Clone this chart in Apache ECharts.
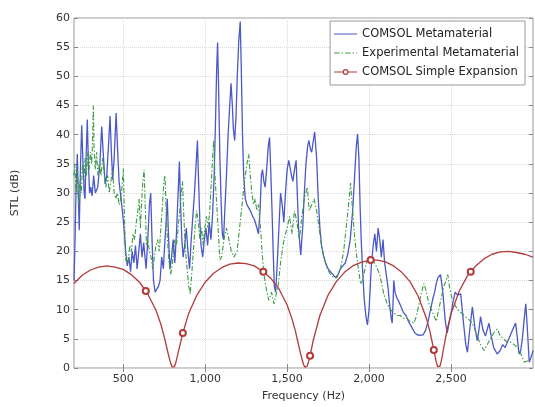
<!DOCTYPE html>
<html><head><meta charset="utf-8">
<script src="https://cdn.jsdelivr.net/npm/echarts@6/dist/echarts.min.js"></script>
<style>html,body{margin:0;padding:0;background:#fff}#c{width:535px;height:407px}</style>
</head><body><div id="c"></div>
<script>
const xTickValues = [500, 1000, 1500, 2000, 2500];
const seriesNames = ['COMSOL Metamaterial', 'Experimental Metamaterial', 'COMSOL Simple Expansion'];

const comsolMeta = [[200,15],[205,20],[212,30],[220,36.7],[226,30],[232,23.6],[240,35],[247,41.6],[255,35],[262,30],[267,29],[274,36],[281,42.6],[288,35],[295,30],[302,31],[310,29.5],[320,33],[330,30],[345,31],[358,35],[369,41.4],[380,36],[390,31.5],[400,33],[410,38],[420,43.2],[428,37],[436,32.3],[445,36],[457,43.7],[465,38],[475,32],[485,29.5],[495,27],[505,24],[515,20],[525,17.5],[535,19],[545,16.5],[555,20],[565,18],[575,21],[585,17],[595,20],[605,23],[615,19],[625,21.5],[640,17],[650,22],[660,28],[668,30],[676,22],[685,15],[695,13],[705,13.2],[715,14],[725,15],[735,19],[745,17],[755,22],[762,25],[769,29],[776,23],[785,17],[795,19],[805,22],[815,18],[825,23],[835,30],[843,35.4],[850,28],[858,22],[866,19],[875,21],[885,24],[895,20],[905,17],[915,22],[925,26],[935,30],[945,35],[953,39],[960,32],[968,25],[975,21],[985,19],[995,22],[1005,24],[1015,21],[1025,25],[1035,22],[1045,26],[1055,33],[1063,42],[1070,51],[1076,55.8],[1082,48],[1090,36],[1098,28],[1105,23],[1112,22],[1120,27],[1130,33],[1140,40],[1150,45],[1158,48.8],[1166,45],[1172,41],[1180,39],[1188,43],[1196,50],[1205,56],[1214,59.4],[1220,52],[1228,40],[1235,33],[1245,29],[1255,28],[1265,27.5],[1275,27],[1290,26],[1300,25.5],[1316,24],[1325,23],[1335,27],[1343,33],[1350,34],[1358,32],[1366,31],[1375,34],[1385,38],[1393,39.5],[1400,34],[1408,27],[1415,20],[1422,14],[1430,13],[1440,18],[1450,24],[1460,30],[1470,28],[1480,25],[1490,30],[1500,34],[1510,35.6],[1520,35.9],[1527,33],[1535,32],[1545,34],[1555,35.6],[1562,30],[1570,24],[1583,19.4],[1595,24],[1605,30],[1615,35],[1625,38],[1633,39],[1642,37.5],[1650,37],[1660,39],[1668,40.5],[1674,40.7],[1680,36],[1690,29],[1700,24],[1710,21],[1720,19.5],[1735,18],[1750,17],[1765,16.5],[1780,16],[1795,15.5],[1810,16],[1825,17],[1840,17.5],[1855,18],[1870,19.5],[1885,22],[1900,27],[1912,33],[1922,38],[1930,40.1],[1938,36],[1945,28],[1952,22],[1960,17],[1970,12],[1980,9],[1990,7.4],[2000,10],[2008,14.4],[2015,18],[2025,21],[2035,23],[2045,20],[2055,24],[2065,22],[2075,19],[2085,22],[2095,18],[2105,16],[2115,14],[2125,11],[2135,8.5],[2141,7.7],[2146,11],[2151,15],[2158,13],[2170,12],[2180,11.5],[2195,10.5],[2210,9.5],[2225,9],[2240,8],[2260,7],[2280,6],[2294,5.7],[2310,5.6],[2330,5.7],[2345,6.5],[2360,8],[2375,10],[2390,12],[2400,13],[2410,14.5],[2420,15.5],[2436,16],[2450,13],[2465,8],[2477,6],[2490,8],[2498,9],[2510,11],[2525,13],[2540,12.5],[2559,12.7],[2575,8],[2590,4],[2600,2.7],[2612,6],[2630,10.5],[2645,7],[2660,4.7],[2670,6.5],[2680,8.8],[2695,6.5],[2710,5.5],[2720,6.5],[2731,7.7],[2745,5.5],[2760,3.5],[2782,2.4],[2800,3],[2815,4],[2830,3.5],[2845,4.5],[2860,5.5],[2875,6.5],[2894,7.7],[2905,5],[2915,2.4],[2925,3],[2935,5],[2945,8],[2956,11],[2965,7],[2977,1],[2990,2],[3000,3]];

const experimentalMeta = [[200,33],[205,35],[212,30],[220,34],[228,28],[236,32],[244,30],[252,35],[260,32],[268,36],[276,33],[285,37],[292,34],[300,37],[308,35],[314,40],[318,45],[322,38],[330,34],[338,37],[346,33],[355,35],[365,33],[375,36],[385,33],[395,31],[405,33],[415,30],[425,32],[435,34],[445,30],[455,29],[465,30],[475,28],[485,29],[493,31],[501,34.2],[508,26],[515,18.3],[522,19],[530,18],[540,21],[550,20],[560,23],[570,22],[580,25],[590,27],[598,29],[605,24],[612,28],[620,32],[628,34],[635,27],[642,21],[650,22],[660,20],[670,19],[680,17],[690,19],[700,21],[710,22],[720,20],[730,24],[740,28],[748,32],[755,33],[762,27],[770,22],[780,18],[790,16],[797,16],[805,19],[815,22],[825,21],[835,24],[845,27],[855,30],[862,32],[870,26],[880,20],[890,17],[900,14],[909,12.7],[918,16],[928,20],[938,24],[948,27],[958,25],[968,22],[978,24],[988,21],[998,24],[1008,26],[1018,24],[1028,27],[1038,32],[1045,36],[1052,39],[1060,33],[1075,26],[1090,18.5],[1100,19],[1115,22],[1130,24],[1145,22],[1160,20],[1175,19],[1195,20],[1210,24],[1225,28],[1240,32],[1255,35],[1266,36.7],[1275,33],[1285,30],[1295,28],[1305,29],[1315,27],[1325,28],[1335,25],[1345,21],[1355,17],[1370,14],[1388,11.6],[1405,13],[1420,11],[1430,11],[1445,14],[1460,18],[1475,21],[1490,23],[1500,24],[1515,26],[1530,23],[1545,27],[1560,25],[1575,22],[1590,26],[1605,29],[1623,31],[1635,27],[1650,28],[1665,29],[1680,27],[1695,24],[1710,21],[1725,19],[1745,17],[1765,16],[1785,15.5],[1805,15.5],[1825,17],[1845,20],[1860,24],[1875,28],[1887,31.7],[1897,28],[1910,23],[1925,19],[1940,16],[1948,14.4],[1960,15],[1975,17],[1990,18.5],[2005,19],[2020,18.5],[2035,18],[2050,17],[2065,16],[2080,14],[2090,12.7],[2110,11],[2130,10],[2150,9.5],[2170,9],[2190,9],[2210,8.5],[2230,8.5],[2250,8],[2274,7.7],[2290,9],[2305,11],[2320,13],[2335,14.5],[2350,13],[2365,11],[2380,10],[2395,9],[2410,8],[2425,10],[2440,12],[2455,14],[2470,15],[2480,16],[2490,14],[2505,12],[2520,11],[2540,10],[2560,9.5],[2580,9],[2600,8.5],[2620,8],[2640,7],[2660,5.5],[2680,4],[2702,3],[2720,4],[2740,5],[2760,6],[2782,6.7],[2800,5.5],[2820,5],[2840,4.5],[2860,4.5],[2885,4],[2905,3.5],[2925,2.5],[2947,1],[2965,1.2],[2990,1.5],[3000,1.5]];

const simpleExpansion = [[200,14.5],[250,15.9],[300,16.8],[350,17.3],[400,17.5],[450,17.3],[500,16.9],[550,16.0],[600,14.7],[638,13.2],[650,12.7],[700,9.9],[730,7.5],[750,5.4],[775,2.4],[790,0.8],[798,0.2],[805,0],[812,0.2],[820,0.8],[840,3.2],[864,6.0],[900,9.4],[950,12.5],[1000,14.7],[1050,16.2],[1100,17.2],[1150,17.8],[1200,18.0],[1250,17.9],[1300,17.5],[1355,16.5],[1400,15.4],[1450,13.6],[1500,10.8],[1530,8.4],[1550,6.4],[1580,2.7],[1600,0.6],[1608,0.15],[1615,0],[1622,0.3],[1630,1.0],[1640,2.1],[1660,4.8],[1700,9.0],[1750,12.5],[1800,14.8],[1850,16.4],[1900,17.5],[1950,18.1],[2010,18.5],[2050,18.5],[2100,18.2],[2150,17.5],[2200,16.4],[2250,14.8],[2300,12.3],[2350,8.5],[2370,6.4],[2395,3.1],[2410,1.0],[2418,0.25],[2425,0],[2432,0.3],[2440,1.1],[2460,4.2],[2475,6.4],[2500,9.3],[2550,13.2],[2600,15.8],[2620,16.5],[2650,17.5],[2700,18.7],[2750,19.5],[2800,19.9],[2850,20.0],[2900,19.8],[2950,19.5],[3000,19.0]];

const markerFreqs = [638, 864, 1355, 1640, 2010, 2395, 2620];

const chart = echarts.init(document.getElementById('c'), null, {renderer: 'canvas'});
const FONT = 'DejaVu Sans';
const redData = simpleExpansion.map(p => markerFreqs.indexOf(p[0]) >= 0 ? {value: p} : {value: p, symbol: 'none'});

const BBOX = 'M0,0h0.01v0.01h-0.01z M22.99,9.99h0.01v0.01h-0.01z ';
const iconSolid = 'path://' + BBOX + 'M0,4.4h23v1.2h-23z';
const iconDashDot = 'path://' + BBOX + 'M0,4.45h5.5v1.1h-5.5z M7.5,4.45h1.5v1.1h-1.5z M11,4.45h5.5v1.1h-5.5z M18.5,4.45h1.5v1.1h-1.5z M22,4.45h1v1.1h-1z';
const iconMarker = 'path://' + BBOX + 'M0,4.4h8.5v1.2h-8.5z M14.5,4.4h8.5v1.2h-8.5z M8.5,5a3,3 0 1,1 6,0a3,3 0 1,1 -6,0z M9.7,5a1.8,1.8 0 1,0 3.6,0a1.8,1.8 0 1,0 -3.6,0z';

const baseX = {type: 'value', min: 200, max: 3000};
chart.setOption({
  animation: false,
  backgroundColor: '#fff',
  grid: {left: 74, right: 2, top: 18, bottom: 31, show: true, borderColor: '#999', borderWidth: 1, backgroundColor: 'transparent'},
  legend: {
    orient: 'vertical', right: 10, top: 21,
    padding: [7, 6, 7, 4], itemGap: 7, itemWidth: 23, itemHeight: 10,
    backgroundColor: '#fff', borderColor: '#999', borderWidth: 1,
    itemStyle: {borderWidth: 0},
    textStyle: {fontFamily: FONT, fontSize: 11.5, color: '#222'},
    data: [
      {name: seriesNames[0], icon: iconSolid},
      {name: seriesNames[1], icon: iconDashDot},
      {name: seriesNames[2], icon: iconMarker}
    ]
  },
  xAxis: [
    Object.assign({}, baseX, {
      position: 'bottom',
      name: 'Frequency (Hz)', nameLocation: 'middle', nameGap: 23,
      nameTextStyle: {fontFamily: FONT, fontSize: 11, color: '#333'},
      axisLine: {show: false},
      axisTick: {show: true, inside: true, length: 4, customValues: xTickValues, lineStyle: {color: '#888'}},
      axisLabel: {customValues: xTickValues, fontFamily: FONT, fontSize: 11, color: '#333', margin: 6},
      splitLine: {show: true, lineStyle: {color: '#d8d8d8', type: 'dotted', width: 1}}
    }),
    Object.assign({}, baseX, {
      position: 'top',
      axisLine: {show: false},
      axisTick: {show: true, inside: true, length: 4, customValues: xTickValues, lineStyle: {color: '#888'}},
      axisLabel: {show: false},
      splitLine: {show: false}
    })
  ],
  yAxis: [
    {
      type: 'value', min: 0, max: 60, interval: 5, position: 'left',
      name: 'STL (dB)', nameLocation: 'middle', nameGap: 53, nameRotate: 90,
      nameTextStyle: {fontFamily: FONT, fontSize: 11, color: '#333'},
      axisLine: {show: false},
      axisTick: {show: true, inside: true, length: 4, lineStyle: {color: '#888'}},
      axisLabel: {fontFamily: FONT, fontSize: 11, color: '#333', margin: 4},
      splitLine: {show: true, lineStyle: {color: '#d8d8d8', type: 'dotted', width: 1}}
    },
    {
      type: 'value', min: 0, max: 60, interval: 5, position: 'right',
      axisLine: {show: false},
      axisTick: {show: true, inside: true, length: 4, lineStyle: {color: '#888'}},
      axisLabel: {show: false},
      splitLine: {show: false}
    }
  ],
  series: [
    {
      name: seriesNames[0], type: 'line', data: comsolMeta, xAxisIndex: 0, yAxisIndex: 0,
      symbol: 'none',
      lineStyle: {color: '#4a58c8', width: 1.3},
      itemStyle: {color: '#4a58c8'}
    },
    {
      name: seriesNames[1], type: 'line', data: experimentalMeta, xAxisIndex: 0, yAxisIndex: 0,
      symbol: 'none',
      lineStyle: {color: '#3c9a45', width: 1.1, type: [5, 2, 1.5, 2]},
      itemStyle: {color: '#3c9a45'}
    },
    {
      name: seriesNames[2], type: 'line', data: redData, xAxisIndex: 0, yAxisIndex: 0,
      symbol: 'emptyCircle', symbolSize: 6, showSymbol: true, showAllSymbol: true,
      lineStyle: {color: '#b23a3a', width: 1.3},
      itemStyle: {color: '#b23a3a', borderColor: '#b23a3a', borderWidth: 1.2}
    }
  ]
});
</script>
</body></html>
